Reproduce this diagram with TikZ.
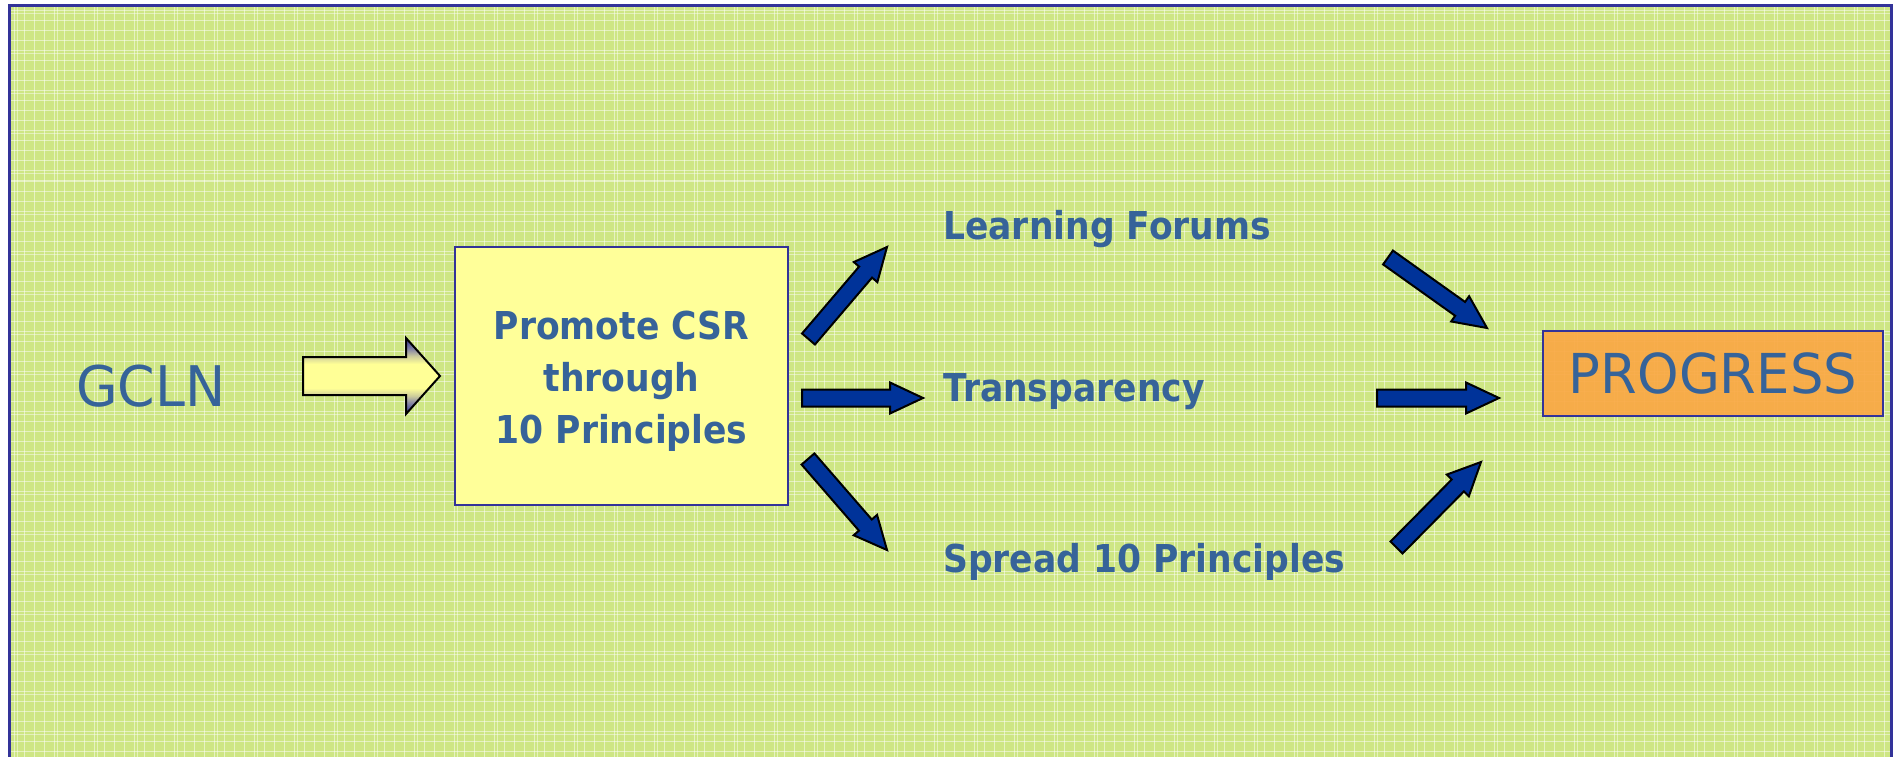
\documentclass[tikz,border=0pt]{standalone}
\usepackage{fontspec}
\usetikzlibrary{calc}
\newfontfamily\lblfont[FakeStretch=0.9]{DejaVu Sans}
\newfontfamily\gclnfont[FakeStretch=0.96]{DejaVu Sans}
\newfontfamily\progfont[FakeStretch=0.96]{DejaVu Sans}
\definecolor{txtblue}{RGB}{54,99,153}
\definecolor{bgreen}{RGB}{206,230,132}
\definecolor{frameblue}{RGB}{51,51,153}
\definecolor{boxyellow}{RGB}{255,255,153}
\definecolor{boxorange}{RGB}{250,168,68}
\definecolor{arrowblue}{RGB}{0,51,153}
\definecolor{ygray}{RGB}{70,70,150}
\definecolor{ymid}{RGB}{130,130,165}
\definecolor{ylight}{RGB}{205,205,155}
\definecolor{yel}{RGB}{255,255,150}
\pgfdeclareverticalshading{yarrowshade}{100bp}{color(0bp)=(ygray); color(27bp)=(ygray); color(32bp)=(ymid); color(37bp)=(ylight); color(42bp)=(yel); color(58bp)=(yel); color(63bp)=(ylight); color(68bp)=(ymid); color(73bp)=(ygray); color(100bp)=(ygray)}
\tikzset{
  lbl/.style={font=\lblfont\bfseries\fontsize{38.4}{52}\selectfont, text=txtblue, inner sep=0pt},
  fatstyle/.style={fill=arrowblue, draw=black, line width=2pt, line join=miter},
  yarrow/.style={shading=yarrowshade, draw=black, line width=2pt, line join=miter},
  bigbox/.style={draw=frameblue, line width=2.5pt, fill=boxyellow, minimum width=333pt, minimum height=258pt, inner sep=0pt},
  progbox/.style={draw=frameblue, line width=2.5pt, fill=boxorange, fill opacity=0.92, text opacity=1, minimum width=340pt, minimum height=85pt, inner sep=0pt, text=txtblue, font=\progfont\fontsize{55}{55}\selectfont}
}
% #1 prefix, #2 tail, #3 tip
\newcommand\fatarrow[3]{%
  \coordinate (#1hb) at ($(#3)!33pt!(#2)$);
  \filldraw[fatstyle] ($(#2)!8.5pt!90:(#3)$) -- ($(#1hb)!8.5pt!-90:(#2)$) -- ($(#1hb)!15.5pt!-90:(#2)$) -- (#3) -- ($(#1hb)!15.5pt!90:(#2)$) -- ($(#1hb)!8.5pt!90:(#2)$) -- ($(#2)!8.5pt!-90:(#3)$) -- cycle;
}
\begin{document}
\begin{tikzpicture}[x=1pt, y=-1pt]
\useasboundingbox (0,0) rectangle (1896,757);
\fill[white] (0,0) rectangle (1896,757);
% background
\fill[bgreen] (9,6) rectangle (1891,770);
\begin{scope}
\clip (9,6) rectangle (1891,757);
\foreach \x in {14,24,...,1894} \draw[white, opacity=0.5, line width=1pt] (\x,6) -- (\x,757);
\foreach \y in {11,21,...,757} \draw[white, opacity=0.5, line width=1pt] (9,\y) -- (1891,\y);
\foreach \x in {17,57,...,1894} \draw[white, opacity=0.45, line width=1pt] (\x,6) -- (\x,757);
\foreach \y in {14,54,...,757} \draw[white, opacity=0.45, line width=1pt] (9,\y) -- (1891,\y);
\end{scope}
\draw[frameblue, line width=3pt] (9,775) -- (9,6) -- (1891,6) -- (1891,775);

% nodes
\node[font=\gclnfont\fontsize{56}{56}\selectfont, text=txtblue, inner sep=0pt, anchor=base west] (gcln) at (76,406) {GCLN};
\node[bigbox] (box) at (621.5,376) {};
\node[lbl, align=center] (boxtxt) at (621.5,381.5) {Promote CSR\\through\\10 Principles};
\node[lbl, anchor=base west] (lf) at (943,239) {Learning Forums};
\node[lbl, anchor=base west] (tr) at (943,401) {Transparency};
\node[lbl, anchor=base west] (sp) at (943,572) {Spread 10 Principles};
\node[progbox] (prog) at (1713,373.5) {PROGRESS};

% yellow arrow GCLN -> box
\coordinate (ya) at (303,376);
\coordinate (yb) at (440,376);
\path[yarrow] (ya) ++(0,-19) -- ++(103,0) -- ++(0,-19) -- (yb) -- ++(-34,38) -- ++(0,-19) -- ++(-103,0) -- cycle;

% blue arrows
\coordinate (a1s) at (808.5,339); \coordinate (a1e) at (887,247);
\coordinate (a2s) at (802,398);   \coordinate (a2e) at (923,398);
\coordinate (a3s) at (808,459);   \coordinate (a3e) at (887,550);
\coordinate (a4s) at (1388,257.5); \coordinate (a4e) at (1487,328);
\coordinate (a5s) at (1377,398);  \coordinate (a5e) at (1499,398);
\coordinate (a6s) at (1396.5,547.5); \coordinate (a6e) at (1481,462);
\fatarrow{a1}{a1s}{a1e}
\fatarrow{a2}{a2s}{a2e}
\fatarrow{a3}{a3s}{a3e}
\fatarrow{a4}{a4s}{a4e}
\fatarrow{a5}{a5s}{a5e}
\fatarrow{a6}{a6s}{a6e}
\end{tikzpicture}
\end{document}
